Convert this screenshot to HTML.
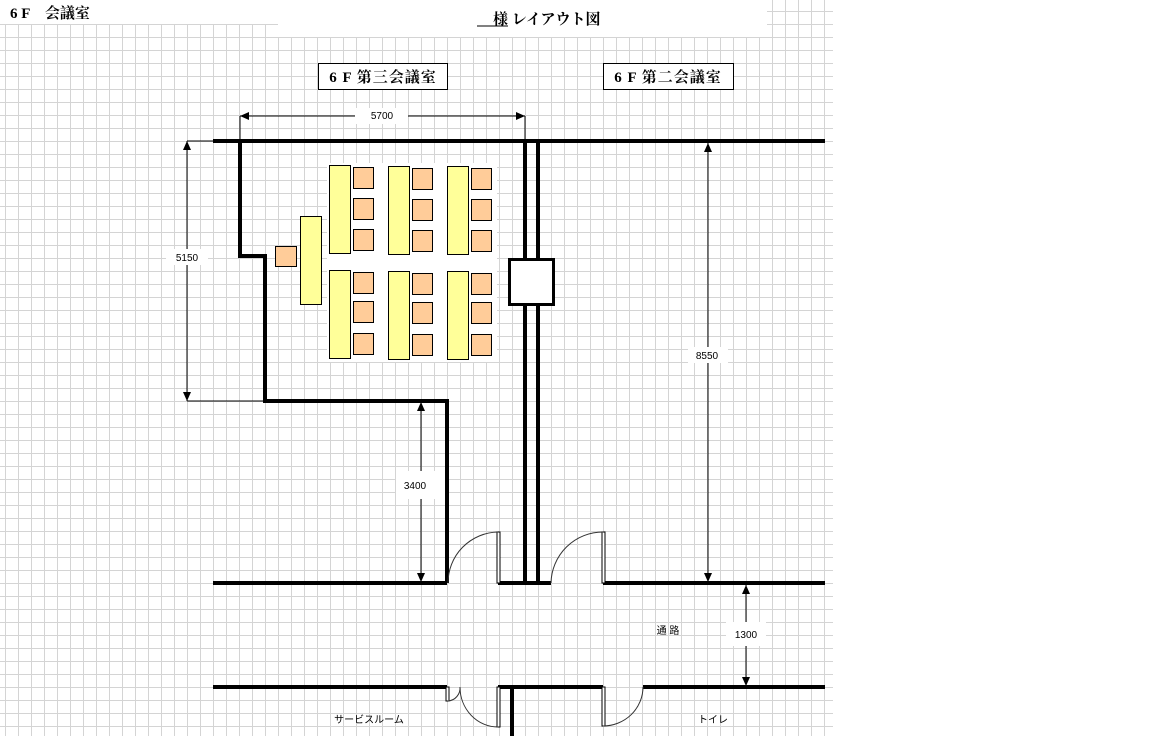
<!DOCTYPE html>
<html><head><meta charset="utf-8"><style>
html,body{margin:0;padding:0;background:#fff;}
svg{display:block;}
.s{font-family:"Liberation Serif","Noto Serif CJK SC",serif;font-weight:bold;}
.n{font-family:"Liberation Sans","Noto Sans CJK JP",sans-serif;}
</style></head><body>
<svg width="1152" height="736" viewBox="0 0 1152 736" xmlns="http://www.w3.org/2000/svg">
<defs>
<pattern id="g" x="5" y="24" width="13" height="13" patternUnits="userSpaceOnUse">
<path d="M0 0.5H13M0.5 0V13" stroke="#d4d4d4" stroke-width="1" fill="none" shape-rendering="crispEdges"/>
</pattern>
<marker id="a" markerWidth="10" markerHeight="10" refX="9" refY="5" orient="auto" markerUnits="userSpaceOnUse">
<path d="M0,1 L9,5 L0,9Z" fill="#000"/></marker>
</defs>
<rect x="0" y="0" width="833" height="736" fill="url(#g)"/>
<rect x="0" y="0" width="278" height="24" fill="#fff"/>
<rect x="278" y="0" width="489" height="37" fill="#fff"/>
<rect x="327" y="163" width="170" height="199" fill="#fff"/>
<text x="10" y="18" class="s" font-size="15">6 F　会議室</text>
<line x1="477" y1="26" x2="508" y2="26" stroke="#000" stroke-width="1"/>
<text x="493" y="24" class="s" font-size="15">様 レイアウト図</text>
<rect x="318.5" y="63.5" width="129" height="26" fill="#fff" stroke="#000"/>
<text x="383" y="82" class="s" font-size="15" text-anchor="middle" letter-spacing="1">6 F 第三会議室</text>
<rect x="603.5" y="63.5" width="130" height="26" fill="#fff" stroke="#000"/>
<text x="668" y="82" class="s" font-size="15" text-anchor="middle" letter-spacing="1">6 F 第二会議室</text>

<g stroke="#000" stroke-width="1" fill="none">
<line x1="240" y1="116" x2="240" y2="141"/><line x1="525" y1="116" x2="525" y2="141"/>
<line x1="241" y1="116" x2="525" y2="116" marker-end="url(#a)"/>
<line x1="524" y1="116" x2="240" y2="116" marker-end="url(#a)"/>
<line x1="187" y1="141" x2="213" y2="141"/><line x1="187" y1="401" x2="265" y2="401"/>
<line x1="187" y1="142" x2="187" y2="401" marker-end="url(#a)"/>
<line x1="187" y1="400" x2="187" y2="141" marker-end="url(#a)"/>
<line x1="421" y1="402" x2="421" y2="582" marker-end="url(#a)"/>
<line x1="421" y1="581" x2="421" y2="402" marker-end="url(#a)"/>
<line x1="708" y1="143" x2="708" y2="582" marker-end="url(#a)"/>
<line x1="708" y1="581" x2="708" y2="143" marker-end="url(#a)"/>
<line x1="746" y1="585" x2="746" y2="686" marker-end="url(#a)"/>
<line x1="746" y1="685" x2="746" y2="585" marker-end="url(#a)"/>
</g>
<g class="n" font-size="10" text-anchor="middle">
<rect x="355" y="108" width="53" height="16" fill="#fff"/><text x="382" y="119">5700</text>
<rect x="166" y="249" width="42" height="16" fill="#fff"/><text x="187" y="261">5150</text>
<rect x="396" y="471" width="50" height="28" fill="#fff"/><text x="415" y="489">3400</text>
<rect x="688" y="347" width="40" height="16" fill="#fff"/><text x="707" y="359">8550</text>
<rect x="726" y="622" width="40" height="24" fill="#fff"/><text x="746" y="638">1300</text>
<text x="668" y="634">通 路</text>
<text x="369" y="723">サービスルーム</text>
<text x="713" y="723">トイレ</text>
</g>

<g stroke="#000" stroke-width="4" fill="none">
<line x1="213" y1="141" x2="825" y2="141"/>
<polyline points="240,141 240,256 265,256 265,401 447,401 447,583"/>
<line x1="213" y1="583" x2="447" y2="583"/>
<line x1="498" y1="583" x2="551" y2="583"/>
<line x1="603" y1="583" x2="825" y2="583"/>
<line x1="525" y1="141" x2="525" y2="583"/>
<line x1="538" y1="141" x2="538" y2="583"/>
<line x1="213" y1="687" x2="447" y2="687"/>
<line x1="498" y1="687" x2="603" y2="687"/>
<line x1="643" y1="687" x2="825" y2="687"/>
<line x1="512" y1="687" x2="512" y2="736"/>
</g>
<rect x="509.5" y="259.5" width="44" height="45" fill="#fff" stroke="#000" stroke-width="3"/>
<g stroke="#000" stroke-width="1" fill="#fff">
<rect x="497" y="532" width="3" height="51"/>
<rect x="602" y="532" width="3" height="51"/>
<rect x="446" y="687" width="3" height="14"/>
<rect x="497" y="687" width="3" height="40"/>
<rect x="602" y="687" width="3" height="39"/>
</g>
<g stroke="#333" stroke-width="1" fill="none">
<path d="M498,532 A51,51 0 0 0 448,583"/>
<path d="M603,532 A52,52 0 0 0 551,583"/>
<path d="M448,701 A13,13 0 0 0 460,687"/>
<path d="M460,687 A38,40 0 0 0 498,727"/>
<path d="M603,726 A40,39 0 0 0 643,687"/>
</g>

<g stroke="#000" stroke-width="1" fill="#ffff99">
<rect x="329.5" y="165.5" width="21" height="88"/>
<rect x="388.5" y="166.5" width="21" height="88"/>
<rect x="447.5" y="166.5" width="21" height="88"/>
<rect x="329.5" y="270.5" width="21" height="88"/>
<rect x="388.5" y="271.5" width="21" height="88"/>
<rect x="447.5" y="271.5" width="21" height="88"/>
<rect x="300.5" y="216.5" width="21" height="88"/>
</g>
<g stroke="#000" stroke-width="1" fill="#ffcc99">
<rect x="353.5" y="167.5" width="20" height="21"/>
<rect x="353.5" y="198.5" width="20" height="21"/>
<rect x="353.5" y="229.5" width="20" height="21"/>
<rect x="412.5" y="168.5" width="20" height="21"/>
<rect x="412.5" y="199.5" width="20" height="21"/>
<rect x="412.5" y="230.5" width="20" height="21"/>
<rect x="471.5" y="168.5" width="20" height="21"/>
<rect x="471.5" y="199.5" width="20" height="21"/>
<rect x="471.5" y="230.5" width="20" height="21"/>
<rect x="353.5" y="272.5" width="20" height="21"/>
<rect x="353.5" y="301.5" width="20" height="21"/>
<rect x="353.5" y="333.5" width="20" height="21"/>
<rect x="412.5" y="273.5" width="20" height="21"/>
<rect x="412.5" y="302.5" width="20" height="21"/>
<rect x="412.5" y="334.5" width="20" height="21"/>
<rect x="471.5" y="273.5" width="20" height="21"/>
<rect x="471.5" y="302.5" width="20" height="21"/>
<rect x="471.5" y="334.5" width="20" height="21"/>
<rect x="275.5" y="246.5" width="21" height="20"/>
</g>
</svg>
</body></html>
